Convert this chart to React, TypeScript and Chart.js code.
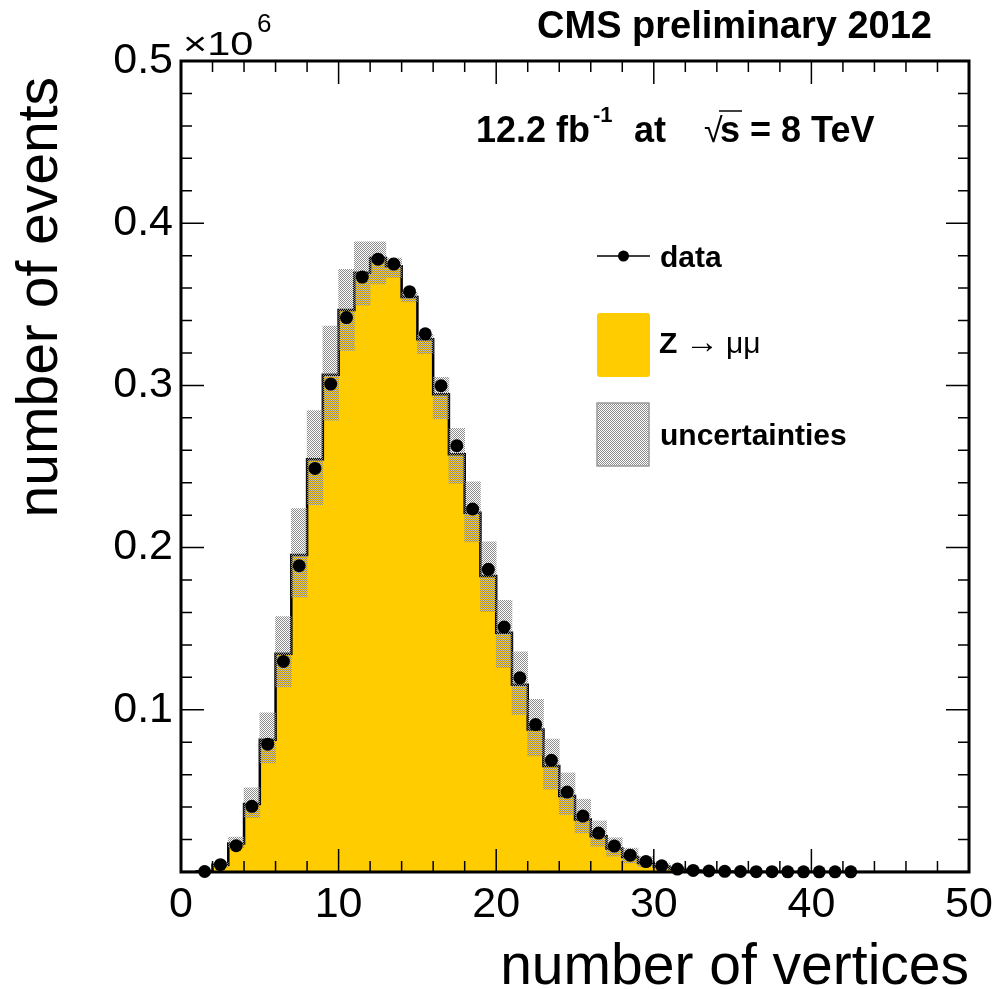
import React, { useEffect, useRef } from 'react';
import { Chart, registerables } from 'chart.js';

Chart.register(...registerables);

// ---------------- data (values in units of 10^6 events) ----------------
const binLowEdges = [
  0, 1, 2, 3, 4, 5, 6, 7, 8, 9, 10, 11, 12, 13, 14, 15, 16, 17, 18, 19, 20, 21, 22, 23, 24,
  25, 26, 27, 28, 29, 30, 31, 32, 33, 34, 35, 36, 37, 38, 39, 40, 41, 42, 43, 44, 45, 46, 47, 48, 49,
];
const binUpperLimit = 50;

// Z -> mumu simulation (histogram content per bin)
const mcCounts = [
  0, 0.0005, 0.0045, 0.0175, 0.042, 0.0815, 0.1345, 0.1955, 0.2545, 0.3065, 0.3465, 0.3695,
  0.3785, 0.3735, 0.3545, 0.3285, 0.2945, 0.2575, 0.2215, 0.1825, 0.1475, 0.1155, 0.0879,
  0.0653, 0.0468, 0.0324, 0.0221, 0.0145, 0.0093, 0.0056, 0.0034, 0.0019, 0.001, 0.0006,
  0.0003, 0.0002, 0.0001, 0, 0, 0, 0, 0, 0, 0, 0, 0, 0, 0, 0, 0,
];

// uncertainty band, lower / upper edge per bin (null = no band drawn)
const bandLow = [
  null, null, 0.0028, 0.015, 0.0335, 0.0673, 0.1141, 0.1695, 0.2265, 0.2785, 0.3215, 0.3495,
  0.3625, 0.3665, 0.3515, 0.3195, 0.2795, 0.2395, 0.2035, 0.1605, 0.126, 0.0972, 0.0715,
  0.0511, 0.0355, 0.0241, 0.0159, 0.0098, 0.0056, 0.0034, 0.0019, 0.001, null, null,
  null, null, null, null, null, null, null, null, null, null, null, null, null, null, null, null,
];
const bandHigh = [
  null, null, 0.006, 0.0215, 0.0519, 0.0982, 0.1575, 0.224, 0.2845, 0.3365, 0.3715, 0.3885,
  0.3885, 0.3785, 0.3575, 0.3315, 0.305, 0.2735, 0.2405, 0.2035, 0.1675, 0.1358, 0.1065,
  0.082, 0.0611, 0.0449, 0.0315, 0.0211, 0.0147, 0.0095, 0.0055, 0.0033, null, null,
  null, null, null, null, null, null, null, null, null, null, null, null, null, null, null, null,
];

// data points, one per bin (bins 1..42)
const dataBins = [
  1, 2, 3, 4, 5, 6, 7, 8, 9, 10, 11, 12, 13, 14, 15, 16, 17, 18, 19, 20, 21, 22, 23, 24, 25,
  26, 27, 28, 29, 30, 31, 32, 33, 34, 35, 36, 37, 38, 39, 40, 41, 42,
];
const dataCounts = [
  0.0003, 0.0045, 0.0162, 0.0405, 0.0788, 0.1298, 0.1888, 0.2488, 0.3008, 0.3418, 0.3668,
  0.3778, 0.3748, 0.3578, 0.3318, 0.2998, 0.2628, 0.2238, 0.1866, 0.151, 0.1197, 0.0909,
  0.0689, 0.0493, 0.0345, 0.024, 0.016, 0.0104, 0.0064, 0.0038, 0.0018, 0.001, 0.0006,
  0.0004, 0.0003, 0.0002, 0.0002, 0.0001, 0.0001, 0.0001, 0.0001, 0.0001,
];

const xTickStep = 10;
const xMinorStep = 2;
const yTickStep = 0.1;
const yMinorStep = 0.02;

const FONT = '"Liberation Sans", Helvetica, Arial, sans-serif';
const YELLOW = '#ffcc00';

function makeHatch(ctx: CanvasRenderingContext2D): CanvasPattern | string {
  const c = document.createElement('canvas');
  c.width = 2;
  c.height = 2;
  const g = c.getContext('2d');
  if (!g) return 'rgba(150,150,150,0.6)';
  g.fillStyle = 'rgb(140,140,140)';
  g.fillRect(0, 0, 1, 1);
  g.fillRect(1, 1, 1, 1);
  return ctx.createPattern(c, 'repeat') || 'rgba(150,150,150,0.6)';
}

export default function App() {
  const canvasRef = useRef<HTMLCanvasElement | null>(null);

  useEffect(() => {
    const canvas = canvasRef.current;
    if (!canvas) return;
    const ctx0 = canvas.getContext('2d');
    if (!ctx0) return;
    const hatch = makeHatch(ctx0);

    const histPoints = binLowEdges.map((e, i) => ({ x: e, y: mcCounts[i] }));
    histPoints.push({ x: binUpperLimit, y: mcCounts[mcCounts.length - 1] });

    const bandPoints: { x: number; y: [number, number] }[] = [];
    binLowEdges.forEach((e, i) => {
      const lo = bandLow[i];
      const hi = bandHigh[i];
      if (lo !== null && hi !== null) bandPoints.push({ x: e + 0.5, y: [lo, hi] });
    });

    const dataPoints = dataBins.map((b, i) => ({ x: b + 0.5, y: dataCounts[i] }));

    const framePlugin = {
      id: 'rootFrame',
      afterDatasetDraw(chart: any, args: any) {
        if (args.index !== 1) return;
        const { ctx, chartArea } = chart;
        const xs = chart.scales.x;
        const ys = chart.scales.y;
        const { left, right, top, bottom } = chartArea;
        ctx.save();
        ctx.strokeStyle = '#000';
        ctx.lineWidth = 1.5;
        ctx.beginPath();
        for (let v = xs.min; v <= xs.max + 1e-9; v += xMinorStep) {
          const px = xs.getPixelForValue(v);
          const major = Math.abs(v / xTickStep - Math.round(v / xTickStep)) < 1e-6;
          const len = major ? 23 : 11;
          ctx.moveTo(px, bottom);
          ctx.lineTo(px, bottom - len);
          ctx.moveTo(px, top);
          ctx.lineTo(px, top + len);
        }
        for (let v = ys.min; v <= ys.max + 1e-9; v += yMinorStep) {
          const py = ys.getPixelForValue(v);
          const major = Math.abs(v / yTickStep - Math.round(v / yTickStep)) < 1e-6;
          const len = major ? 23 : 11;
          ctx.moveTo(left, py);
          ctx.lineTo(left + len, py);
          ctx.moveTo(right, py);
          ctx.lineTo(right - len, py);
        }
        ctx.stroke();
        ctx.lineWidth = 3;
        ctx.strokeRect(left, top, right - left, bottom - top);
        ctx.restore();
      },
      afterDraw(chart: any) {
        const { ctx, chartArea } = chart;
        const { left, right, top, bottom } = chartArea;
        ctx.save();
        ctx.fillStyle = '#000';
        ctx.textBaseline = 'alphabetic';

        // axis titles
        ctx.font = `57px ${FONT}`;
        ctx.textAlign = 'right';
        ctx.fillText('number of vertices', right, bottom + 112);
        ctx.save();
        ctx.translate(57, top + 16);
        ctx.rotate(-Math.PI / 2);
        ctx.fillText('number of events', 0, 0);
        ctx.restore();

        // exponent
        ctx.textAlign = 'left';
        ctx.save();
        ctx.translate(left + 2, top - 6);
        ctx.scale(1.22, 1);
        ctx.font = `34px ${FONT}`;
        ctx.fillText('\u00d710', 0, 0);
        ctx.restore();
        ctx.font = `26px ${FONT}`;
        ctx.fillText('6', left + 76, top - 29);

        // header
        ctx.textAlign = 'right';
        ctx.font = `bold 38px ${FONT}`;
        ctx.fillText('CMS preliminary 2012', right - 37, 38);

        // luminosity / energy
        ctx.textAlign = 'left';
        ctx.font = `bold 36px ${FONT}`;
        ctx.fillText('12.2 fb', 476, 142);
        ctx.font = `bold 22px ${FONT}`;
        ctx.fillText('-1', 593, 122);
        ctx.font = `bold 36px ${FONT}`;
        ctx.fillText('at', 634, 142);
        ctx.font = `34px ${FONT}`;
        ctx.fillText('\u221a', 704, 142);
        ctx.lineWidth = 1.5;
        ctx.beginPath();
        ctx.moveTo(719, 111);
        ctx.lineTo(742, 111);
        ctx.stroke();
        ctx.font = `bold 36px ${FONT}`;
        ctx.fillText('s = 8 TeV', 720, 142);

        // legend
        const lx0 = 597;
        const lx1 = 650;
        ctx.lineWidth = 1.5;
        ctx.beginPath();
        ctx.moveTo(lx0, 256);
        ctx.lineTo(lx1, 256);
        ctx.stroke();
        ctx.beginPath();
        ctx.arc((lx0 + lx1) / 2, 256, 5.5, 0, Math.PI * 2);
        ctx.fill();
        ctx.font = `bold 30px ${FONT}`;
        ctx.fillText('data', 660, 267);

        ctx.fillStyle = YELLOW;
        ctx.beginPath();
        (ctx as any).roundRect ? (ctx as any).roundRect(lx0, 313, lx1 - lx0, 64, 3) : ctx.rect(lx0, 313, lx1 - lx0, 64);
        ctx.fill();
        ctx.fillStyle = '#000';
        ctx.font = `bold 30px ${FONT}`;
        ctx.fillText('Z', 659, 353);
        ctx.font = `34px ${FONT}`;
        ctx.fillText('\u2192', 685, 353);
        ctx.font = `30px ${FONT}`;
        ctx.fillText('\u03bc\u03bc', 726, 353);

        ctx.fillStyle = hatch as any;
        ctx.fillRect(lx0, 403, lx1 - lx0 - 1, 63);
        ctx.strokeStyle = '#9a9a9a';
        ctx.lineWidth = 1.5;
        ctx.strokeRect(lx0, 403, lx1 - lx0 - 1, 63);
        ctx.fillStyle = '#000';
        ctx.font = `bold 30px ${FONT}`;
        ctx.fillText('uncertainties', 660, 445);
        ctx.restore();
      },
    };

    const chart = new Chart(canvas, {
      type: 'line',
      data: {
        datasets: [
          {
            type: 'line',
            label: 'Z \u2192 \u03bc\u03bc',
            data: histPoints,
            stepped: 'before',
            borderColor: '#000',
            borderWidth: 2.5,
            backgroundColor: YELLOW,
            fill: 'origin',
            pointRadius: 0,
            order: 3,
          },
          {
            type: 'bar',
            label: 'uncertainties',
            data: bandPoints as any,
            backgroundColor: hatch as any,
            borderWidth: 0,
            barPercentage: 1,
            categoryPercentage: 1,
            grouped: false,
            order: 2,
          },
          {
            type: 'line',
            label: 'data',
            data: dataPoints,
            showLine: false,
            pointRadius: 6.5,
            pointBackgroundColor: '#000',
            pointBorderColor: '#000',
            pointBorderWidth: 0,
            clip: false as any,
            order: 1,
          },
        ] as any,
      },
      options: {
        animation: false,
        responsive: true,
        maintainAspectRatio: false,
        devicePixelRatio: 1,
        layout: { padding: { top: 61, right: 27, left: 0, bottom: 0 } },
        plugins: { legend: { display: false }, tooltip: { enabled: false } },
        events: [],
        scales: {
          x: {
            type: 'linear',
            min: 0,
            max: binUpperLimit,
            offset: false,
            grid: { display: false, drawTicks: false },
            border: { display: false },
            ticks: {
              stepSize: xTickStep,
              autoSkip: false,
              maxRotation: 0,
              color: '#000',
              font: { size: 43, family: FONT },
              padding: 7,
            },
            afterFit: (s: any) => {
              s.height = 117;
              s.paddingLeft = 0;
              s.paddingRight = 0;
            },
          },
          y: {
            type: 'linear',
            min: 0,
            max: 0.5,
            grid: { display: false, drawTicks: false },
            border: { display: false },
            ticks: {
              stepSize: yTickStep,
              autoSkip: false,
              color: '#000',
              font: { size: 43, family: FONT },
              padding: 8,
              callback: (v: any) => (Number(v) === 0 ? '' : Number(v).toFixed(1)),
            },
            afterFit: (s: any) => {
              s.width = 181;
              s.paddingTop = 0;
              s.paddingBottom = 0;
            },
          },
        },
      } as any,
      plugins: [framePlugin],
    });

    return () => chart.destroy();
  }, []);

  return (
    <div style={{ position: 'absolute', left: 0, top: 0, width: 996, height: 989, background: '#fff' }}>
      <canvas ref={canvasRef} />
    </div>
  );
}
